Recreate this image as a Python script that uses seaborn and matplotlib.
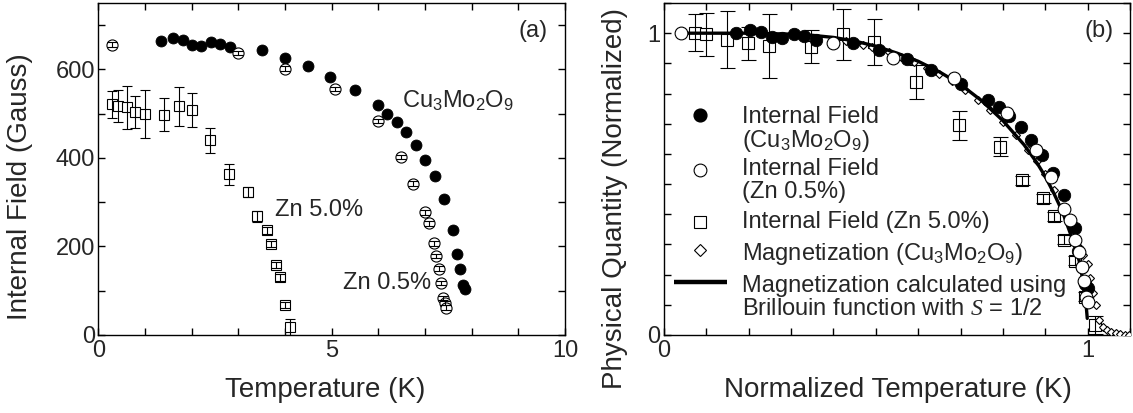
import matplotlib
matplotlib.use("Agg")
import matplotlib.pyplot as plt
from matplotlib.ticker import MultipleLocator
import seaborn as sns

# ---- panel (a): internal field vs temperature ----
cu_temp = [1.34, 1.60, 1.82, 2.00, 2.19, 2.41, 2.60, 2.82, 3.50, 3.99, 4.50, 4.96, 5.50,
           6.00, 6.19, 6.39, 6.59, 6.80, 7.01, 7.21, 7.41, 7.61, 7.69, 7.75, 7.81, 7.86]
cu_field = [664, 671, 667, 656, 654, 662, 658, 650, 643, 626, 607, 583, 553,
            519, 500, 481, 459, 429, 396, 359, 308, 238, 184, 150, 113, 103]

zn05_temp = [0.30, 3.00, 4.00, 5.07, 6.00, 6.49, 6.75, 7.00, 7.09, 7.19, 7.24, 7.29,
             7.34, 7.39, 7.43, 7.45]
zn05_field = [656, 637, 602, 556, 483, 402, 342, 277, 252, 207, 178, 150, 117, 83, 72, 62]
zn05_err = [5, 5, 5, 5, 5, 5, 5, 5, 5, 5, 5, 5, 5, 5, 5, 5]

zn50_temp = [0.29, 0.43, 0.61, 0.79, 1.00, 1.41, 1.72, 2.01, 2.40, 2.80, 3.21, 3.39,
             3.61, 3.71, 3.80, 3.89, 4.00, 4.10]
zn50_field = [521, 517, 514, 504, 500, 498, 517, 508, 440, 363, 323, 268,
              237, 205, 159, 130, 68, 19]
zn50_err = [31, 36, 49, 37, 54, 37, 44, 39, 28, 24, 12, 12, 8, 7, 7, 7, 6, 18]

# ---- panel (b): normalized quantities ----
ncu_t = [0.170, 0.204, 0.230, 0.254, 0.279, 0.307, 0.331, 0.359, 0.445, 0.508, 0.573,
         0.630, 0.700, 0.765, 0.790, 0.815, 0.842, 0.867, 0.892, 0.917, 0.943, 0.970,
         0.978, 0.986, 0.994, 1.000]
ncu_q = [1.000, 1.010, 1.005, 0.988, 0.985, 0.997, 0.991, 0.979, 0.968, 0.943, 0.914,
         0.878, 0.833, 0.780, 0.754, 0.724, 0.690, 0.646, 0.596, 0.538, 0.464, 0.355,
         0.277, 0.226, 0.170, 0.155]

nzn05_t = [0.041, 0.400, 0.540, 0.684, 0.809, 0.877, 0.913, 0.944, 0.958, 0.969, 0.980,
           0.987, 0.991, 0.996, 1.000]
nzn05_q = [0.999, 0.968, 0.918, 0.850, 0.734, 0.613, 0.524, 0.419, 0.381, 0.315, 0.276,
           0.226, 0.178, 0.127, 0.110]

nzn50_t = [0.073, 0.099, 0.148, 0.199, 0.249, 0.348, 0.422, 0.495, 0.596, 0.696, 0.794,
           0.846, 0.895, 0.920, 0.944, 0.969, 0.993, 1.017]
nzn50_q = [1.002, 0.996, 0.979, 0.966, 0.957, 0.955, 0.996, 0.972, 0.839, 0.695, 0.624,
           0.513, 0.453, 0.394, 0.315, 0.246, 0.127, 0.033]
nzn50_err = [0.060, 0.070, 0.095, 0.055, 0.105, 0.055, 0.085, 0.076, 0.057, 0.048, 0.032,
             0.015, 0.015, 0.015, 0.015, 0.015, 0.015, 0.030]

mag_t = [0.43, 0.45, 0.47, 0.49, 0.51, 0.53, 0.56, 0.59, 0.62, 0.65, 0.68, 0.71, 0.74,
         0.77, 0.80, 0.83, 0.86, 0.88, 0.90, 0.92, 0.94, 0.955, 0.97, 0.98, 0.99, 1.00,
         1.006, 1.013, 1.020, 1.027, 1.035, 1.045, 1.055, 1.066, 1.076, 1.087, 1.097]
mag_q = [0.975, 0.968, 0.962, 0.955, 0.946, 0.937, 0.922, 0.905, 0.886, 0.864, 0.840,
         0.812, 0.780, 0.745, 0.705, 0.662, 0.612, 0.575, 0.532, 0.482, 0.425, 0.375,
         0.320, 0.290, 0.265, 0.235, 0.190, 0.140, 0.100, 0.050, 0.025, 0.015, 0.010,
         0.006, 0.003, 0.001, 0.000]

bril_t = [0.05, 0.20, 0.30, 0.35, 0.40, 0.45, 0.50, 0.55, 0.60, 0.65, 0.70, 0.75, 0.80,
          0.85, 0.88, 0.90, 0.92, 0.94, 0.96, 0.97, 0.98, 0.99, 0.995, 0.999]
bril_q = [1.000, 1.000, 0.997, 0.993, 0.986, 0.974, 0.957, 0.934, 0.907, 0.872, 0.830,
          0.776, 0.710, 0.630, 0.571, 0.525, 0.470, 0.410, 0.333, 0.297, 0.245, 0.172,
          0.122, 0.055]

sns.set_style("ticks")
plt.rcParams['font.family'] = ['Liberation Sans', 'DejaVu Sans']
plt.rcParams['mathtext.fontset'] = 'custom'
plt.rcParams['mathtext.rm'] = 'Liberation Sans'
plt.rcParams['mathtext.it'] = 'Liberation Serif:italic'
plt.rcParams['axes.linewidth'] = 1.0

CU = 'Cu$_3$Mo$_2$O$_9$'


def style_axes(ax):
    ax.tick_params(which='both', direction='in', top=True, right=True,
                   length=5, width=1, color='black', labelsize=17, pad=2.5)
    ax.tick_params(axis='x', pad=3.5)
    for sp in ax.spines.values():
        sp.set_color('black')


fig = plt.figure(figsize=(11.33, 4.13), dpi=100)
ax1 = fig.add_axes([0.0868, 0.1889, 0.4119, 0.8038])
ax2 = fig.add_axes([0.586, 0.1889, 0.4114, 0.8038])

# ---------- panel (a) ----------
ax1.errorbar(zn50_temp, zn50_field, yerr=zn50_err, fmt='s', ms=7.3, mfc='white',
             mec='black', mew=0.8, ecolor='black', elinewidth=0.8, capsize=3.6,
             capthick=0.8, barsabove=True, zorder=2)
sns.scatterplot(x=cu_temp, y=cu_field, ax=ax1, marker='o', s=62, color='black',
                edgecolor='black', linewidth=0.6, zorder=3)
ax1.errorbar(zn05_temp, zn05_field, yerr=zn05_err, fmt='o', ms=8, mfc='white',
             mec='black', mew=0.8, ecolor='black', elinewidth=0.8, capsize=3.6,
             capthick=1.2, barsabove=True, zorder=4)

ax1.set_xlim(0, 10)
ax1.set_ylim(0, 750)
ax1.set_xticks([0, 5, 10])
ax1.xaxis.set_minor_locator(MultipleLocator(1))
ax1.set_yticks([0, 200, 400, 600])
ax1.yaxis.set_minor_locator(MultipleLocator(100))
style_axes(ax1)
ax1.set_xlabel('Temperature (K)', fontsize=20)
ax1.set_ylabel('Internal Field (Gauss)', fontsize=20)
ax1.xaxis.set_label_coords(0.486, -0.127)
ax1.yaxis.set_label_coords(-0.140, 0.446)

ax1.text(6.5, 514, CU, fontsize=17, ha='left', va='baseline')
ax1.text(3.79, 268, 'Zn 5.0%', fontsize=17, ha='left', va='baseline')
ax1.text(5.24, 103, 'Zn 0.5%', fontsize=17, ha='left', va='baseline')
ax1.text(0.963, 0.898, '(a)', fontsize=17, ha='right', va='baseline',
         transform=ax1.transAxes)

# ---------- panel (b) ----------
ax2.errorbar(nzn50_t, nzn50_q, yerr=nzn50_err, fmt='s', ms=8.4, mfc='white',
             mec='black', mew=0.8, ecolor='black', elinewidth=0.8, capsize=5.4,
             capthick=0.8, barsabove=True, zorder=2)
ax2.plot(mag_t, mag_q, linestyle='none', marker='D', ms=4.3, mfc='white',
         mec='black', mew=0.8, zorder=3)
sns.lineplot(x=bril_t, y=bril_q, ax=ax2, color='black', linewidth=2.4,
             sort=False, estimator=None, zorder=4)
sns.scatterplot(x=ncu_t, y=ncu_q, ax=ax2, marker='o', s=80, color='black',
                edgecolor='black', linewidth=0.6, zorder=5)
ax2.plot(nzn05_t, nzn05_q, linestyle='none', marker='o', ms=9.2, mfc='white',
         mec='black', mew=0.8, zorder=6)

ax2.set_xlim(0, 1.1)
ax2.set_ylim(0, 1.1)
ax2.set_xticks([0, 1])
ax2.xaxis.set_minor_locator(MultipleLocator(0.1))
ax2.set_yticks([0, 1])
ax2.yaxis.set_minor_locator(MultipleLocator(0.1))
style_axes(ax2)
ax2.set_xlabel('Normalized Temperature (K)', fontsize=20)
ax2.set_ylabel('Physical Quantity (Normalized)', fontsize=20)
ax2.xaxis.set_label_coords(0.502, -0.127)
ax2.yaxis.set_label_coords(-0.077, 0.41)
ax2.text(0.964, 0.898, '(b)', fontsize=17, ha='right', va='baseline',
         transform=ax2.transAxes)

# hand-made key, markers aligned with the first text line as in the original
tr = ax2.transAxes
kx, tx = 0.0773, 0.167
ax2.plot([kx], [0.663], 'o', ms=9.2, color='black', transform=tr)
ax2.plot([kx], [0.497], 'o', ms=9.2, mfc='white', mec='black', mew=0.8, transform=tr)
ax2.plot([kx], [0.341], 's', ms=9, mfc='white', mec='black', mew=0.8, transform=tr)
ax2.plot([kx], [0.256], 'D', ms=6, mfc='white', mec='black', mew=0.8, transform=tr)
ax2.plot([0.0215, 0.135], [0.161, 0.161], color='black', lw=3.2, transform=tr,
         solid_capstyle='butt')
key_lines = [
    ('Internal Field', 0.638),
    ('(' + CU + ')', 0.567),
    ('Internal Field', 0.482),
    ('(Zn 0.5%)', 0.414),
    ('Internal Field (Zn 5.0%)', 0.321),
    ('Magnetization (' + CU + ')', 0.226),
    ('Magnetization calculated using', 0.130),
    ('Brillouin function with $S$ = 1/2', 0.060),
]
for txt, yb in key_lines:
    ax2.text(tx, yb, txt, fontsize=17, ha='left', va='baseline', transform=tr)

fig.savefig('out.png', dpi=100)
